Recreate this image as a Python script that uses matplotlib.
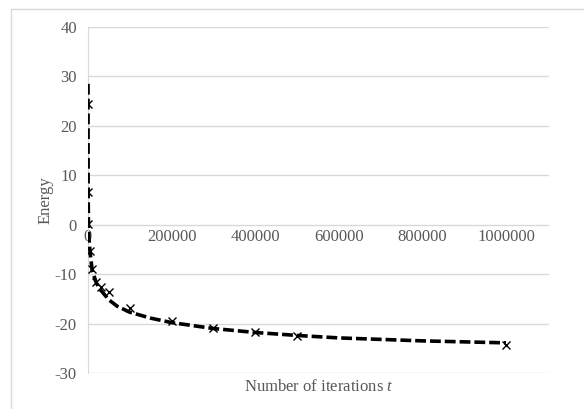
import numpy as np
import matplotlib
matplotlib.use("Agg")
import matplotlib.pyplot as plt
from matplotlib.patches import Rectangle

# measured energies (markers)
iters = [0, 100, 1000, 5000, 10000, 20000, 30000, 50000,
         100000, 200000, 300000, 400000, 500000, 1000000]
energy = [24.5, 6.6, 0.2, -5.4, -9.0, -11.6, -12.7, -13.6,
          -16.9, -19.4, -20.9, -21.8, -22.5, -24.4]

# dashed fitted curve
fit_x = [0, 300, 1000, 2000, 5000, 10000, 20000, 30000, 50000, 70000,
         100000, 150000, 200000, 300000, 400000, 500000, 600000, 800000, 1000000]
fit_y = [28.5, 8.0, 0.5, -2.5, -5.6, -9.2, -11.8, -13.2, -15.2, -16.5,
         -17.7, -18.9, -19.8, -21.0, -21.8, -22.4, -22.9, -23.5, -23.9]

xticks = [0, 200000, 400000, 600000, 800000, 1000000]
yticks = [-30, -20, -10, 0, 10, 20, 30, 40]

plt.rcParams['font.family'] = ['Liberation Serif', 'DejaVu Serif']
plt.rcParams['axes.unicode_minus'] = False
plt.rcParams['mathtext.fontset'] = 'custom'
plt.rcParams['mathtext.it'] = 'Liberation Serif:italic'
plt.rcParams['mathtext.rm'] = 'Liberation Serif'
gray = '#595959'

fig = plt.figure(figsize=(5.84, 4.09), dpi=100)
W, H = 584, 409
ax = fig.add_axes([88 / W, 1 - 373 / H, (549 - 88) / W, (373 - 27) / H])

# chart area border
fig.patches.append(Rectangle((11 / W, -0.1), 1.2, 1 - 9 / H + 0.1, transform=fig.transFigure,
                             fill=False, edgecolor='#d9d9d9', linewidth=1))

ax.plot(fit_x, fit_y, color='black', linestyle=(0, (3, 1.1)), linewidth=2.6, zorder=3)
ax.plot(iters, energy, linestyle='none', marker='x', color='black',
        markersize=6, markeredgewidth=1, zorder=4)

ax.set_xlim(0, 1103000)
ax.set_ylim(-30, 40)
ax.set_yticks(yticks)
ax.set_xticks(xticks)
ax.grid(axis='y', color='#d9d9d9', linewidth=1)
ax.set_axisbelow(True)
for s in ['top', 'right', 'bottom']:
    ax.spines[s].set_visible(False)
ax.spines['left'].set_color('#d9d9d9')
ax.tick_params(axis='both', length=0, colors=gray, labelsize=12)
ax.tick_params(axis='y', pad=8)

# x tick labels sit just below the zero line, as in Excel
ax.set_xticklabels([])
for xt in xticks:
    ax.text(xt, -0.8, str(xt), ha='center', va='top', color=gray, fontsize=12, zorder=2)

ax.set_ylabel('Energy', color=gray, fontsize=12, labelpad=1)
ax.set_xlabel('Number of iterations $\\mathit{t}$', color=gray, fontsize=12, labelpad=1)

fig.savefig('out.png', dpi=100)
